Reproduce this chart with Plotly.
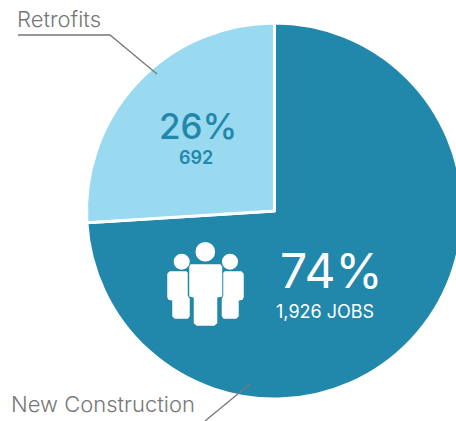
import plotly.graph_objects as go

categories = ["New Construction", "Retrofits"]
shares = [74, 26]
jobs_labels = ["1,926 JOBS", "692"]
share_labels = ["74%", "26%"]
colors = ["#2187AB", "#9ADAF0"]

W, H = 470, 421
FONT = "Inter"


def px(x):
    return x / W


def py(y):
    return 1 - y / H


def txt(x, y, text, size, color, weight=400):
    return dict(
        x=px(x), y=py(y), xref="paper", yref="paper", text=text, showarrow=False,
        xanchor="left", yanchor="middle",
        font=dict(family=FONT, size=size, color=color, weight=weight),
    )


def line(points, color="#777777", width=1.3):
    d = "M " + " L ".join(f"{px(x):.5f},{py(y):.5f}" for x, y in points)
    return dict(type="path", path=d, xref="paper", yref="paper", layer="above",
                line=dict(color=color, width=width))


def blob(points):
    d = "M " + " L ".join(f"{px(x):.5f},{py(y):.5f}" for x, y in points) + " Z"
    return dict(type="path", path=d, xref="paper", yref="paper", layer="above",
                fillcolor="white", line=dict(color="white", width=1.5))


def head(cx, cy, r):
    return dict(type="circle", xref="paper", yref="paper", layer="above",
                x0=px(cx - r), x1=px(cx + r), y0=py(cy + r), y1=py(cy - r),
                fillcolor="white", line=dict(width=0))


shapes = [
    line([(18, 35), (110, 35), (157, 74)]),
    line([(250, 384), (205, 421)]),
    head(205.3, 251.7, 9.8),
    head(181.7, 261.7, 8),
    head(230, 261.7, 8),
    blob([(191, 265), (220, 265), (221.5, 267), (221.5, 296), (216.5, 297), (216.5, 323),
          (214, 325), (197, 325), (194.5, 323), (194.5, 297), (190, 296), (190, 267)]),
    blob([(170, 272), (186, 272), (187, 273), (187, 296), (189, 299), (189, 316), (187.5, 318),
          (175, 318), (173, 316), (173, 300), (169, 299), (168, 297), (168, 274)]),
    blob([(225, 272), (241, 272), (243, 274), (243, 297), (242, 299), (238, 300), (238, 316),
          (236, 318), (224, 318), (222.5, 316), (222.5, 299), (224, 296), (224, 273)]),
]

annotations = [
    txt(15, 19, categories[1], 22, "#777777", 300),
    txt(9, 404, categories[0], 22, "#777777", 300),
    txt(157, 126, share_labels[1], 35, colors[0], 500),
    txt(177, 157, jobs_labels[1], 18, colors[0], 600),
    txt(278, 270.5, share_labels[0], 48, "white", 400),
    txt(274, 311.5, jobs_labels[0], 18, "white", 400),
]

fig = go.Figure(go.Pie(
    labels=categories, values=shares, sort=False, direction="clockwise", rotation=0,
    marker=dict(colors=colors, line=dict(color="white", width=3)),
    textinfo="none", hoverinfo="label+percent",
    domain=dict(x=[px(86.5), px(462.5)], y=[py(399), py(23)]),
))
fig.update_layout(
    width=W, height=H, margin=dict(l=0, r=0, t=0, b=0), showlegend=False,
    paper_bgcolor="white", plot_bgcolor="white",
    shapes=shapes, annotations=annotations,
)
fig.write_html(
    "out.html",
    config=dict(displayModeBar=False),
    post_script="document.body.style.margin='0';document.body.style.overflow='hidden';document.documentElement.style.overflow='hidden';",
)
